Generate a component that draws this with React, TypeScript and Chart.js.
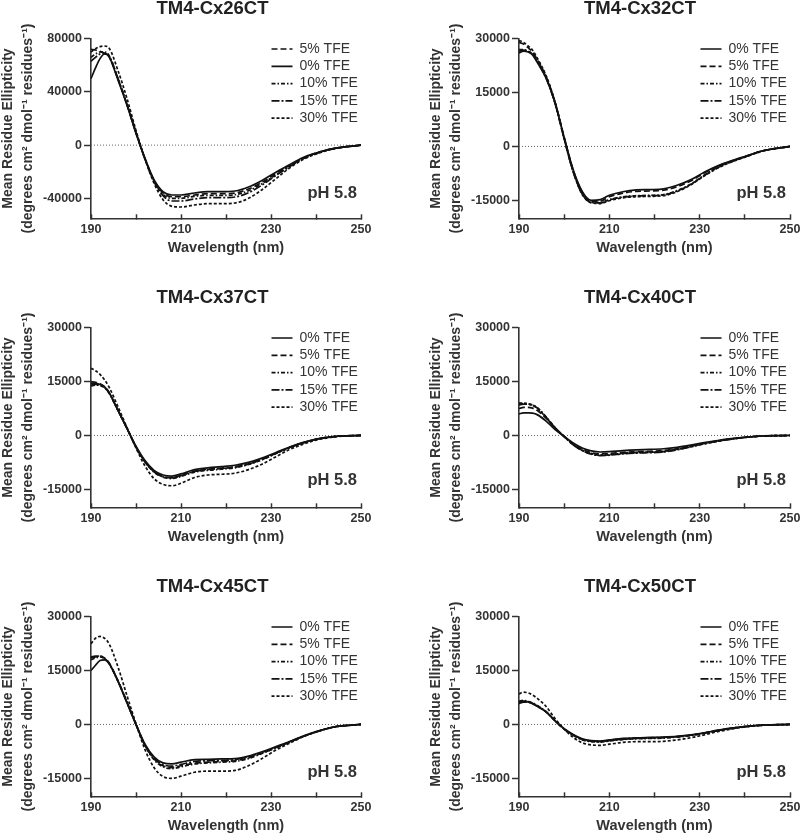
import React, { useEffect, useRef } from "react";
import { Chart, registerables } from "chart.js";

Chart.register(...registerables);

const FONT = '"Liberation Sans", Arial, Helvetica, sans-serif';
Chart.defaults.font.family = FONT;
Chart.defaults.color = "#333";

// ---------- shared axes / labels ----------
const wavelengths = [190, 191, 192, 193, 194, 196, 198, 200, 202, 204, 206, 208, 210, 213, 216, 219, 222, 225, 228, 231, 234, 237, 240, 244, 250];
const xTicks = [190, 200, 210, 220, 230, 240, 250];
const xTickLabels = ["190", "210", "230", "250"];
const tfeLabels = ["0% TFE", "5% TFE", "10% TFE", "15% TFE", "30% TFE"];
const yTicks26 = [-40000, 0, 40000, 80000];
const yTicksStd = [-15000, 0, 15000, 30000];
const phLabel = "pH 5.8";
const yTitle = ["Mean Residue Ellipticity", "(degrees cm\u00B2 dmol\u207B\u00B9 residues\u207B\u00B9)"];
const xTitle = "Wavelength (nm)";

// ---------- TM4-Cx26CT ----------
const cx26_0 = [50000, 58000, 65000, 68500, 66500, 49000, 30000, 9000, -10000, -26000, -35000, -37500, -37500, -36000, -35000, -35000, -34500, -31500, -26500, -20500, -15000, -9500, -6000, -2500, 0];
const cx26_5 = [72000, 71500, 70500, 69000, 66500, 49500, 30500, 9500, -10000, -26500, -36000, -38800, -38800, -37500, -36500, -36500, -36000, -33000, -28000, -21500, -15500, -10000, -6000, -2500, 0];
const cx26_10 = [66000, 68500, 70000, 70000, 67500, 50000, 30500, 9500, -10500, -27000, -37000, -40000, -40000, -38500, -37800, -37800, -37300, -34300, -29000, -22500, -16000, -10300, -6300, -2600, 0];
const cx26_15 = [63000, 66000, 68500, 69000, 67000, 50000, 30500, 9000, -10500, -27500, -38000, -42000, -42000, -40500, -39500, -39500, -39000, -35800, -30000, -23000, -16500, -10500, -6400, -2600, 0];
const cx26_30 = [70000, 72500, 74000, 74500, 73000, 56000, 35000, 11000, -10500, -28500, -41000, -46000, -46500, -45000, -44000, -44000, -43500, -40000, -33500, -25500, -17500, -11000, -6700, -2700, 0];

// ---------- TM4-Cx32CT ----------
const cx32_0 = [26000, 26500, 26300, 25500, 23500, 19000, 12000, 2500, -6500, -12500, -15000, -14800, -13600, -12600, -12100, -12000, -11800, -10800, -9300, -7200, -5400, -4000, -2800, -1200, 0];
const cx32_5 = [29000, 28500, 27500, 26300, 24300, 19500, 12300, 2600, -6600, -12800, -15300, -15200, -14000, -13000, -12500, -12400, -12200, -11200, -9600, -7400, -5500, -4100, -2800, -1200, 0];
const cx32_10 = [27000, 27000, 26500, 25800, 23800, 19200, 12000, 2200, -7000, -13200, -15500, -15600, -14800, -14000, -13700, -13600, -13400, -12300, -10500, -8000, -5800, -4200, -2900, -1200, 0];
const cx32_15 = [26500, 26800, 26500, 25700, 23700, 19000, 11900, 2100, -7100, -13300, -15600, -15700, -14900, -14100, -13800, -13700, -13500, -12400, -10600, -8100, -5900, -4300, -2900, -1200, 0];
const cx32_30 = [29500, 29000, 28000, 26800, 24700, 19700, 12300, 2300, -7000, -13300, -15700, -15900, -15100, -14300, -14000, -13900, -13700, -12600, -10700, -8200, -6000, -4300, -3000, -1300, 0];

// ---------- TM4-Cx37CT ----------
const cx37_0 = [14500, 14500, 14200, 13500, 12000, 7000, 2000, -3000, -7000, -9700, -11000, -11300, -10700, -9500, -9000, -8700, -8300, -7500, -6300, -4800, -3300, -2000, -1000, -300, 0];
const cx37_5 = [15000, 14800, 14400, 13600, 12000, 7000, 1900, -3200, -7300, -10000, -11400, -11700, -11100, -9900, -9400, -9100, -8700, -7900, -6600, -5000, -3400, -2100, -1100, -300, 0];
const cx37_10 = [13800, 14000, 13900, 13300, 11800, 6900, 1900, -3300, -7400, -10200, -11600, -12000, -11400, -10200, -9700, -9400, -9000, -8100, -6800, -5100, -3500, -2100, -1100, -300, 0];
const cx37_15 = [14000, 14200, 14000, 13400, 11900, 7000, 2000, -3200, -7300, -10100, -11500, -11800, -11200, -10000, -9500, -9200, -8800, -8000, -6700, -5000, -3400, -2100, -1100, -300, 0];
const cx37_30 = [18700, 18000, 17000, 15500, 13500, 8000, 2200, -3500, -8500, -12000, -13600, -14000, -13300, -11700, -11000, -10800, -10500, -9500, -8000, -6000, -4000, -2500, -1300, -400, 0];

// ---------- TM4-Cx40CT ----------
const cx40_0 = [6000, 6300, 6300, 6200, 5800, 4000, 1600, -300, -2100, -3500, -4300, -4600, -4500, -4200, -4000, -3900, -3700, -3300, -2700, -2000, -1400, -900, -500, -150, 0];
const cx40_5 = [7500, 7800, 7800, 7600, 7000, 4800, 2000, -300, -2400, -3900, -4800, -5100, -5000, -4700, -4500, -4400, -4200, -3700, -3000, -2200, -1500, -1000, -550, -150, 0];
const cx40_10 = [8800, 8900, 8800, 8500, 7800, 5200, 2200, -300, -2600, -4200, -5100, -5500, -5400, -5000, -4800, -4700, -4500, -3900, -3100, -2300, -1600, -1000, -550, -150, 0];
const cx40_15 = [8500, 8700, 8700, 8400, 7700, 5100, 2100, -300, -2600, -4200, -5200, -5600, -5500, -5100, -4900, -4800, -4600, -4000, -3200, -2300, -1600, -1000, -550, -150, 0];
const cx40_30 = [9000, 9000, 8800, 8400, 7600, 5000, 2100, -200, -2500, -4100, -5000, -5400, -5300, -4900, -4700, -4600, -4400, -3800, -3100, -2300, -1600, -1000, -550, -150, 0];

// ---------- TM4-Cx45CT ----------
const cx45_0 = [15000, 16500, 17800, 18000, 17000, 12000, 6000, 0, -5500, -9000, -10700, -11000, -10500, -9800, -9700, -9600, -9500, -8800, -7600, -6200, -4800, -3300, -2000, -700, 0];
const cx45_5 = [18500, 18800, 19000, 18500, 17200, 12200, 6200, 0, -5800, -9600, -11500, -12000, -11500, -10800, -10500, -10300, -10100, -9300, -8000, -6500, -5000, -3400, -2100, -700, 0];
const cx45_10 = [18000, 18500, 18800, 18300, 17000, 12000, 6100, 0, -5900, -9800, -11800, -12300, -11800, -11000, -10700, -10500, -10300, -9500, -8100, -6600, -5000, -3400, -2100, -700, 0];
const cx45_15 = [18800, 19000, 19000, 18400, 17100, 12100, 6100, 0, -5700, -9400, -11200, -11600, -11100, -10300, -10100, -10000, -9800, -9000, -7800, -6400, -4900, -3400, -2100, -700, 0];
const cx45_30 = [22500, 24000, 24500, 24000, 22500, 16000, 8000, 200, -7000, -12000, -14500, -15000, -14400, -13300, -13000, -13000, -12800, -11500, -9500, -7200, -5300, -3500, -2100, -700, 0];

// ---------- TM4-Cx50CT ----------
const cx50_0 = [6200, 6500, 6300, 5800, 5100, 3500, 1000, -1200, -2800, -4000, -4500, -4600, -4300, -3900, -3700, -3600, -3500, -3300, -2900, -2300, -1600, -1000, -600, -200, 0];
const cx50_5 = [6000, 6400, 6300, 5900, 5200, 3500, 1000, -1300, -3000, -4200, -4700, -4800, -4500, -4100, -3900, -3800, -3700, -3400, -3000, -2400, -1700, -1100, -600, -200, 0];
const cx50_10 = [6500, 6700, 6500, 6000, 5300, 3600, 1000, -1300, -3000, -4300, -4800, -4900, -4600, -4200, -4000, -3900, -3800, -3500, -3100, -2400, -1700, -1100, -600, -200, 0];
const cx50_15 = [5800, 6200, 6200, 5800, 5100, 3500, 1000, -1200, -2900, -4100, -4600, -4700, -4400, -4000, -3800, -3700, -3600, -3400, -3000, -2400, -1700, -1100, -600, -200, 0];
const cx50_30 = [8500, 9000, 8800, 8200, 7300, 5000, 1600, -1300, -3600, -5100, -5700, -5800, -5500, -5000, -4800, -4800, -4700, -4300, -3700, -2900, -2000, -1300, -700, -200, 0];

// line style for each TFE concentration (0,5,10,15,30 %)
const dashes: number[][] = [[], [6, 3], [4, 2, 1.5, 2], [8, 2, 2, 2], [3, 2]];

type PanelCfg = {
  title: string;
  series: number[][];
  order: number[];
  yMin: number;
  yMax: number;
  yTicks: number[];
  col: number;
  row: number;
};

const panels: PanelCfg[] = [
  { title: "TM4-Cx26CT", series: [cx26_0, cx26_5, cx26_10, cx26_15, cx26_30], order: [1, 0, 2, 3, 4], yMin: -55000, yMax: 80000, yTicks: yTicks26, col: 0, row: 0 },
  { title: "TM4-Cx32CT", series: [cx32_0, cx32_5, cx32_10, cx32_15, cx32_30], order: [0, 1, 2, 3, 4], yMin: -20000, yMax: 30000, yTicks: yTicksStd, col: 1, row: 0 },
  { title: "TM4-Cx37CT", series: [cx37_0, cx37_5, cx37_10, cx37_15, cx37_30], order: [0, 1, 2, 3, 4], yMin: -20000, yMax: 30000, yTicks: yTicksStd, col: 0, row: 1 },
  { title: "TM4-Cx40CT", series: [cx40_0, cx40_5, cx40_10, cx40_15, cx40_30], order: [0, 1, 2, 3, 4], yMin: -20000, yMax: 30000, yTicks: yTicksStd, col: 1, row: 1 },
  { title: "TM4-Cx45CT", series: [cx45_0, cx45_5, cx45_10, cx45_15, cx45_30], order: [0, 1, 2, 3, 4], yMin: -20000, yMax: 30000, yTicks: yTicksStd, col: 0, row: 2 },
  { title: "TM4-Cx50CT", series: [cx50_0, cx50_5, cx50_10, cx50_15, cx50_30], order: [0, 1, 2, 3, 4], yMin: -20000, yMax: 30000, yTicks: yTicksStd, col: 1, row: 2 },
];

const ROW_TOPS = [0, 289, 578];
const PH_OFFSETS = [25, 27, 23.5];
const CANVAS_H = 257;
// per column geometry: canvas left/width, layout padding, axis widths
const COLS = [
  { left: 0, width: 400, padL: 40, yW: 51, padR: 15, rightW: 24, yTitlePad: -41.6 },
  { left: 400, width: 430, padL: 71, yW: 48, padR: 21, rightW: 19, yTitlePad: -44.9 },
];

function Panel({ cfg }: { cfg: PanelCfg }) {
  const ref = useRef<HTMLCanvasElement>(null);
  const geo = COLS[cfg.col];

  useEffect(() => {
    const canvas = ref.current;
    if (!canvas) return;
    const phOffset = PH_OFFSETS[cfg.row];

    const datasets: any[] = cfg.order.map((i) => ({
      label: tfeLabels[i],
      data: wavelengths.map((x, k) => ({ x, y: cfg.series[i][k] })),
      borderColor: "#111",
      backgroundColor: "#111",
      borderWidth: 1.7,
      borderDash: dashes[i],
      pointRadius: 0,
      pointHoverRadius: 0,
      fill: false,
      cubicInterpolationMode: "monotone",
    }));
    // dotted zero reference line
    datasets.push({
      label: "",
      data: [{ x: wavelengths[0], y: 0 }, { x: wavelengths[wavelengths.length - 1], y: 0 }],
      borderColor: "#666",
      borderWidth: 1,
      borderDash: [1, 2],
      pointRadius: 0,
      pointHoverRadius: 0,
      fill: false,
    });

    const decor = {
      id: "decor",
      beforeDraw(chart: any) {
        const lg = chart.legend;
        const ca = chart.chartArea;
        if (lg && ca) {
          lg.left = ca.right - 92.8;
          lg.right = lg.left + 130;
          lg.top = ca.top;
          lg.bottom = ca.bottom;
        }
      },
      afterDraw(chart: any) {
        const ca = chart.chartArea;
        const ctx = chart.ctx;
        ctx.save();
        ctx.font = `bold 16.5px ${FONT}`;
        ctx.fillStyle = "#333";
        ctx.textAlign = "right";
        ctx.textBaseline = "middle";
        ctx.fillText(phLabel, ca.right - 4, ca.bottom - phOffset);
        ctx.restore();
      },
    };

    const chart = new Chart(canvas, {
      type: "line",
      data: { datasets },
      plugins: [decor],
      options: {
        animation: false,
        responsive: false,
        events: [],
        layout: { padding: { left: geo.padL, right: geo.padR, top: 0, bottom: 0 } },
        plugins: {
          tooltip: { enabled: false },
          title: {
            display: true,
            text: cfg.title,
            color: "#222",
            font: { family: FONT, size: 18.5, weight: "bold", lineHeight: 1 },
            padding: { top: 0, bottom: 20.2 },
          },
          legend: {
            display: true,
            position: "chartArea",
            align: "start",
            labels: {
              usePointStyle: true,
              pointStyle: "line",
              pointStyleWidth: 21,
              padding: 3.3,
              color: "#333",
              font: { family: FONT, size: 14 },
              generateLabels: (ch: any) => {
                const base = (Chart.defaults.plugins.legend.labels as any).generateLabels(ch);
                return base
                  .filter((it: any) => it.datasetIndex < cfg.order.length)
                  .map((it: any) => ({
                    ...it,
                    lineDash: ch.data.datasets[it.datasetIndex].borderDash || [],
                    lineWidth: 1.7,
                    strokeStyle: "#111",
                    fillStyle: "#111",
                    pointStyle: "line",
                  }));
              },
            },
          },
        },
        scales: {
          x: {
            type: "linear",
            position: "bottom",
            min: 190,
            max: 250,
            afterBuildTicks: (s: any) => {
              s.ticks = xTicks.map((v) => ({ value: v }));
            },
            afterFit: (s: any) => {
              s.height = 38.7;
              s.paddingLeft = 0;
              s.paddingRight = 0;
            },
            ticks: {
              autoSkip: false,
              maxRotation: 0,
              padding: 7.5,
              color: "#333",
              font: { family: FONT, size: 12.5, weight: "bold" },
              callback: (v: any) => (xTickLabels.includes(String(v)) ? String(v) : ""),
            },
            grid: {
              drawOnChartArea: false,
              drawTicks: true,
              tickLength: -4,
              tickColor: "#333",
              tickWidth: 1.5,
            },
            border: { display: true, color: "#333", width: 1.6 },
            title: {
              display: true,
              text: xTitle,
              color: "#333",
              font: { family: FONT, size: 14.5, weight: "bold", lineHeight: 1 },
              padding: { top: 0, bottom: 1.45 },
            },
          },
          y: {
            type: "linear",
            position: "left",
            min: cfg.yMin,
            max: cfg.yMax,
            afterBuildTicks: (s: any) => {
              s.ticks = cfg.yTicks.map((v) => ({ value: v }));
            },
            afterFit: (s: any) => {
              s.width = geo.yW;
              s.paddingTop = 0;
              s.paddingBottom = 0;
            },
            ticks: {
              padding: 2,
              color: "#333",
              font: { family: FONT, size: 12.5, weight: "bold" },
              callback: (v: any) => String(v),
            },
            grid: {
              drawOnChartArea: false,
              drawTicks: true,
              tickLength: 7,
              tickColor: "#333",
              tickWidth: 1.5,
            },
            border: { display: true, color: "#333", width: 1.6 },
            title: {
              display: true,
              text: yTitle,
              color: "#333",
              font: { family: FONT, size: 14, weight: "bold", lineHeight: 1.42 },
              padding: { top: geo.yTitlePad, bottom: 0 },
            },
          },
          // empty spacer on the right (keeps the panel title centred as in the figure)
          spacer: {
            type: "linear",
            position: "right",
            display: true,
            ticks: { display: false },
            grid: { display: false, drawTicks: false },
            border: { display: false },
            title: { display: false },
            afterFit: (s: any) => {
              s.width = geo.rightW;
              s.paddingTop = 0;
              s.paddingBottom = 0;
            },
          },
        },
      } as any,
    });

    return () => chart.destroy();
  }, [cfg]);

  return (
    <canvas
      ref={ref}
      width={geo.width}
      height={CANVAS_H}
      style={{
        position: "absolute",
        left: geo.left,
        top: ROW_TOPS[cfg.row],
        width: geo.width,
        height: CANVAS_H,
        display: "block",
      }}
    />
  );
}

export default function App() {
  return (
    <div style={{ position: "absolute", left: 0, top: 0, width: 800, height: 835, background: "#fff", overflow: "hidden" }}>
      {panels.map((p) => (
        <Panel key={p.title} cfg={p} />
      ))}
    </div>
  );
}
